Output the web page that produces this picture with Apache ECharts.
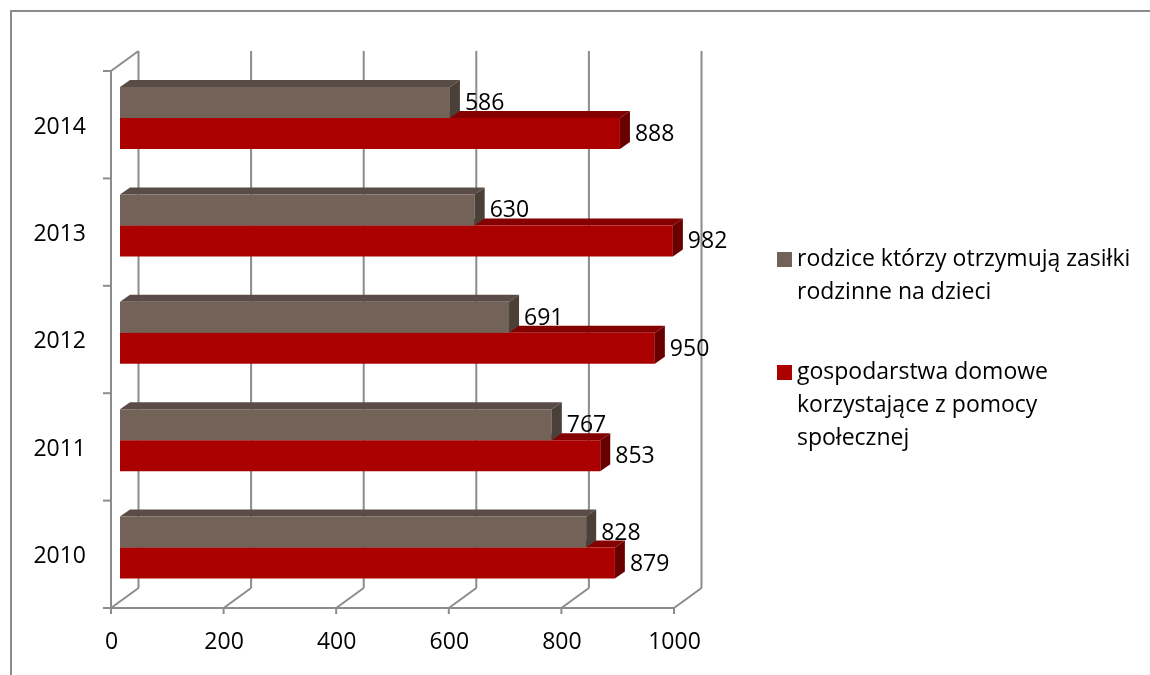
<!DOCTYPE html>
<html><head><meta charset="utf-8">
<script src="https://cdn.jsdelivr.net/npm/echarts@6/dist/echarts.min.js"></script>
<style>html,body{margin:0;padding:0;background:#fff}#c{width:1150px;height:675px}</style>
</head><body><div id="c"></div>
<script>
// ---- data ----
const categories = ['2010', '2011', '2012', '2013', '2014'];
const seriesNames = [
  'rodzice którzy otrzymują zasiłki rodzinne na dzieci',
  'gospodarstwa domowe korzystające z pomocy społecznej'
];
const legendLines = [
  ['rodzice którzy otrzymują zasiłki', 'rodzinne na dzieci'],
  ['gospodarstwa domowe', 'korzystające z pomocy', 'społecznej']
];
const parentsValues = [828, 767, 691, 630, 586];
const householdsValues = [879, 853, 950, 982, 888];
const xTicks = [0, 200, 400, 600, 800, 1000];

// ---- styling ----
const FONT = 'Open Sans';
const LINE = '#8c8c8c';
const FRONT = [-9, 6.7];   // front plane offset from bar plane
const BACK = [18.5, -13.3]; // back plane offset from bar plane
const DEPTH = [10, -7];     // bar depth
const BW = 31;              // bar thickness
const colors = {
  gray: { front: '#726258', top: '#594b46', side: '#4a4037' },
  red:  { front: '#ab0000', top: '#850000', side: '#680000' }
};

const chart = echarts.init(document.getElementById('c'), null, { renderer: 'canvas' });

function wallsRender(params, api) {
  const band = api.size([0, 1])[1];
  const n = categories.length;
  const yTop = api.coord([0, n - 1])[1] - band / 2;
  const yBot = api.coord([0, 0])[1] + band / 2;
  const x0 = api.coord([xTicks[0], 0])[0];
  const xEnd = api.coord([xTicks[xTicks.length - 1], 0])[0];
  const st = { stroke: LINE, lineWidth: 2 };
  const ch = [];
  const line = (a, b, c, d) => ch.push({ type: 'line', shape: { x1: a, y1: b, x2: c, y2: d }, style: st });
  xTicks.forEach(t => {
    const x = api.coord([t, 0])[0];
    line(x + BACK[0], yTop + BACK[1], x + BACK[0], yBot + BACK[1]);
    line(x + FRONT[0], yBot + FRONT[1], x + BACK[0], yBot + BACK[1]);
    line(x + FRONT[0], yBot + FRONT[1], x + FRONT[0], yBot + FRONT[1] + 6);
  });
  line(x0 + FRONT[0], yBot + FRONT[1], xEnd + FRONT[0], yBot + FRONT[1]);
  line(x0 + FRONT[0], yTop + FRONT[1], x0 + FRONT[0], yBot + FRONT[1]);
  line(x0 + FRONT[0], yTop + FRONT[1], x0 + BACK[0], yTop + BACK[1]);
  for (let i = 0; i <= n; i++) {
    const y = yTop + i * band + FRONT[1];
    line(x0 + FRONT[0] - 8, y, x0 + FRONT[0], y);
  }
  return { type: 'group', children: ch };
}

function barRender(kind, upper) {
  return function (params, api) {
    const v = api.value(0), idx = api.value(1);
    const c = api.coord([v, idx]);
    const x0 = api.coord([0, idx])[0];
    const x1 = c[0];
    const yT = upper ? c[1] - BW : c[1];
    const yB = yT + BW;
    const col = colors[kind];
    const dx = DEPTH[0], dy = DEPTH[1];
    return {
      type: 'group',
      children: [
        { type: 'polygon', shape: { points: [[x0, yT], [x1, yT], [x1 + dx, yT + dy], [x0 + dx, yT + dy]] }, style: { fill: col.top } },
        { type: 'rect', shape: { x: x0, y: yT, width: x1 - x0, height: BW }, style: { fill: col.front } },
        { type: 'polygon', shape: { points: [[x1, yT], [x1 + dx, yT + dy], [x1 + dx, yB + dy], [x1, yB]] }, style: { fill: col.side } },
        { type: 'text', x: x1 + dx + 5, y: yT + BW / 2 + 1, style: { text: String(v), fill: '#000', font: '23px "' + FONT + '"', textAlign: 'left', textVerticalAlign: 'middle' } }
      ]
    };
  };
}

// Blank lines are prepended so the first text line sits level with the icon.
function legendText(name) {
  const lines = legendLines[seriesNames.indexOf(name)];
  return new Array(lines.length - 1).fill('').concat(lines).join('\n');
}

const legendBase = {
  orient: 'vertical', left: 777, padding: 0, icon: 'rect', itemWidth: 15, itemHeight: 15,
  selectedMode: false,
  formatter: legendText,
  textStyle: { fontFamily: FONT, fontSize: 23, color: '#000', lineHeight: 33 }
};

chart.setOption({
  animation: false,
  backgroundColor: '#fff',
  graphic: [{
    type: 'rect', shape: { x: 11, y: 11, width: 1200, height: 720 },
    style: { fill: 'none', stroke: '#8c8c8c', lineWidth: 2 }, z: 0, silent: true
  }],
  legend: [
    Object.assign({}, legendBase, { top: 210, data: [seriesNames[0]] }),
    Object.assign({}, legendBase, { top: 290, data: [seriesNames[1]] })
  ],
  grid: { left: 120, right: 467, top: 64.3, bottom: 73.7, containLabel: false },
  xAxis: {
    type: 'value', min: 0, max: 1000, interval: 200,
    axisLine: { show: false }, axisTick: { show: false }, splitLine: { show: false },
    axisLabel: { margin: 27, fontFamily: FONT, fontSize: 23, color: '#000', lineHeight: 28, padding: [0, 17, 0, 0], formatter: v => String(v) }
  },
  yAxis: {
    type: 'category', data: categories,
    axisLine: { show: false }, axisTick: { show: false }, splitLine: { show: false },
    axisLabel: { margin: 34, fontFamily: FONT, fontSize: 23, color: '#000', verticalAlign: 'top', lineHeight: 18 }
  },
  series: [
    {
      type: 'custom', name: 'walls', clip: false, silent: true, z: 1,
      data: [[0, 0]], encode: { x: 0, y: 1 },
      renderItem: wallsRender
    },
    {
      type: 'custom', name: seriesNames[1], clip: false, z: 2,
      itemStyle: { color: colors.red.front },
      data: householdsValues.map((v, i) => [v, i]), encode: { x: 0, y: 1 },
      renderItem: barRender('red', false)
    },
    {
      type: 'custom', name: seriesNames[0], clip: false, z: 3,
      itemStyle: { color: colors.gray.front },
      data: parentsValues.map((v, i) => [v, i]), encode: { x: 0, y: 1 },
      renderItem: barRender('gray', true)
    }
  ]
});
</script>
</body></html>
